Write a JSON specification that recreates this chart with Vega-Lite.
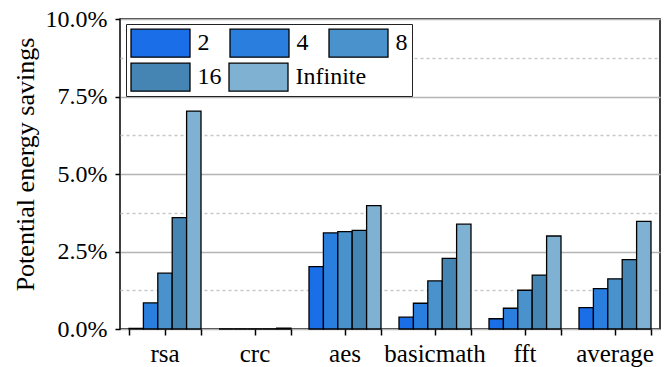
{
  "$schema": "https://vega.github.io/schema/vega-lite/v6.json",
  "width": 540,
  "height": 310,
  "autosize": {"type": "none"},
  "padding": {"left": 120, "top": 19, "right": 12, "bottom": 38},
  "background": "white",
  "config": {
    "font": "Liberation Serif",
    "view": {"stroke": "black", "strokeWidth": 1.5},
    "axis": {
      "labelFont": "Liberation Serif",
      "labelColor": "black",
      "titleFont": "Liberation Serif",
      "titleFontWeight": "normal",
      "titleColor": "black",
      "domain": false,
      "tickColor": "black",
      "tickWidth": 1.5
    },
    "legend": {
      "labelFont": "Liberation Serif",
      "labelFontSize": 24,
      "labelColor": "black"
    }
  },
  "data": {
    "values": [
      {"benchmark": "rsa", "size": "2", "nodes": "2", "saving": 0.02},
      {"benchmark": "rsa", "size": "4", "nodes": "4", "saving": 0.84},
      {"benchmark": "rsa", "size": "8", "nodes": "8", "saving": 1.80},
      {"benchmark": "rsa", "size": "16", "nodes": "16", "saving": 3.59},
      {"benchmark": "rsa", "size": "Infinite", "nodes": "Infinite", "saving": 7.03},
      {"benchmark": "crc", "size": "2", "nodes": "2", "saving": 0.0},
      {"benchmark": "crc", "size": "4", "nodes": "4", "saving": 0.0},
      {"benchmark": "crc", "size": "8", "nodes": "8", "saving": 0.0},
      {"benchmark": "crc", "size": "16", "nodes": "16", "saving": 0.0},
      {"benchmark": "crc", "size": "Infinite", "nodes": "Infinite", "saving": 0.03},
      {"benchmark": "aes", "size": "2", "nodes": "2", "saving": 2.01},
      {"benchmark": "aes", "size": "4", "nodes": "4", "saving": 3.10},
      {"benchmark": "aes", "size": "8", "nodes": "8", "saving": 3.14},
      {"benchmark": "aes", "size": "16", "nodes": "16", "saving": 3.18},
      {"benchmark": "aes", "size": "Infinite", "nodes": "Infinite", "saving": 3.98},
      {"benchmark": "basicmath", "size": "2", "nodes": "2", "saving": 0.38},
      {"benchmark": "basicmath", "size": "4", "nodes": "4", "saving": 0.83},
      {"benchmark": "basicmath", "size": "8", "nodes": "8", "saving": 1.55},
      {"benchmark": "basicmath", "size": "16", "nodes": "16", "saving": 2.28},
      {"benchmark": "basicmath", "size": "Infinite", "nodes": "Infinite", "saving": 3.38},
      {"benchmark": "fft", "size": "2", "nodes": "2", "saving": 0.33},
      {"benchmark": "fft", "size": "4", "nodes": "4", "saving": 0.67},
      {"benchmark": "fft", "size": "8", "nodes": "8", "saving": 1.25},
      {"benchmark": "fft", "size": "16", "nodes": "16", "saving": 1.74},
      {"benchmark": "fft", "size": "Infinite", "nodes": "Infinite", "saving": 3.0},
      {"benchmark": "average", "size": "2", "nodes": "2", "saving": 0.69},
      {"benchmark": "average", "size": "4", "nodes": "4", "saving": 1.30},
      {"benchmark": "average", "size": "8", "nodes": "8", "saving": 1.62},
      {"benchmark": "average", "size": "16", "nodes": "16", "saving": 2.24},
      {"benchmark": "average", "size": "Infinite", "nodes": "Infinite", "saving": 3.47}
    ]
  },
  "layer": [
    {
      "mark": {"type": "bar", "opacity": 0},
      "encoding": {
        "x": {
          "field": "benchmark",
          "type": "nominal",
          "sort": ["rsa", "crc", "aes", "basicmath", "fft", "average"],
          "axis": {
            "orient": "bottom",
            "tickBand": "extent",
            "labels": false,
            "title": null,
            "tickSize": 6,
            "grid": false
          }
        },
        "y": {
          "field": "saving",
          "type": "quantitative",
          "scale": {"domain": [0, 10], "nice": false},
          "axis": {
            "orient": "left",
            "values": [1.25, 3.75, 6.25, 8.75],
            "labels": false,
            "ticks": false,
            "title": null,
            "grid": true,
            "gridColor": "#c8c8c8",
            "gridWidth": 1.5,
            "gridDash": [3, 3]
          }
        }
      }
    },
    {
      "mark": {"type": "bar", "stroke": "black", "strokeWidth": 1.3},
      "encoding": {
        "x": {
          "field": "benchmark",
          "type": "nominal",
          "sort": ["rsa", "crc", "aes", "basicmath", "fft", "average"],
          "scale": {"paddingInner": 0.2, "paddingOuter": 0.1},
          "axis": {
            "orient": "bottom",
            "title": null,
            "labelAngle": 0,
            "labelFont": "Liberation Serif",
            "labelFontSize": 25,
            "tickSize": 6,
            "labelPadding": 6,
            "grid": false
          }
        },
        "xOffset": {
          "field": "size",
          "type": "nominal",
          "sort": ["2", "4", "8", "16", "Infinite"]
        },
        "y": {
          "field": "saving",
          "type": "quantitative",
          "scale": {"domain": [0, 10], "nice": false},
          "axis": {
            "orient": "left",
            "values": [0, 2.5, 5, 7.5, 10],
            "labelExpr": "format(datum.value, '.1f') + '%'",
            "labelFont": "Liberation Serif",
            "labelFontSize": 24,
            "tickSize": 5,
            "labelPadding": 8,
            "grid": true,
            "gridColor": "#b4b4b4",
            "gridWidth": 1.5,
            "title": "Potential energy savings",
            "titleFont": "Liberation Serif",
            "titleFontSize": 26,
            "titleX": -95,
            "titleY": 145,
            "titleAngle": 270,
            "titleAlign": "center",
            "titleBaseline": "middle"
          }
        },
        "fill": {
          "field": "size",
          "type": "nominal",
          "sort": ["2", "4", "8", "16", "Infinite"],
          "scale": {
            "domain": ["2", "4", "8", "16", "Infinite"],
            "range": ["#1a6fe8", "#2a7fde", "#4a92cc", "#4585b4", "#7fb2d2"]
          },
          "legend": {
            "values": ["2", "4", "8"],
            "title": " ",
            "titleOrient": "bottom",
            "titleFontSize": 27,
            "titlePadding": 6,
            "orient": "none",
            "legendX": 6,
            "legendY": 5,
            "zindex": 1,
            "columns": 3,
            "direction": "horizontal",
            "columnPadding": 17,
            "padding": 4,
            "strokeColor": "#222222",
            "fillColor": "white",
            "symbolType": "M-2.107,-1H2.107V1H-2.107Z",
            "symbolSize": 784,
            "symbolOffset": 15.5,
            "symbolStrokeColor": "black",
            "symbolStrokeWidth": 1.3,
            "symbolOpacity": 1,
            "labelOffset": 22,
            "labelBaseline": "middle"
          }
        },
        "strokeDash": {
          "field": "nodes",
          "type": "nominal",
          "scale": {"domain": ["16", "Infinite"], "range": [[1, 0], [1, 0]]},
          "legend": {
            "values": ["16", "Infinite"],
            "title": null,
            "orient": "none",
            "legendX": 10,
            "legendY": 43,
            "zindex": 2,
            "columns": 2,
            "direction": "horizontal",
            "columnPadding": 4,
            "padding": 0,
            "symbolType": "M-2.107,-1H2.107V1H-2.107Z",
            "symbolSize": 784,
            "symbolOffset": 15.5,
            "symbolFillColor": "#6199c2",
            "symbolStrokeColor": "black",
            "symbolStrokeWidth": 1.3,
            "symbolOpacity": 1,
            "labelOffset": 22,
            "labelBaseline": "middle",
            "encode": {
              "symbols": {
                "update": {
                  "fill": {"signal": "datum.value === '16' ? '#4585b4' : '#7fb2d2'"},
                  "fillOpacity": {"value": 1},
                  "stroke": {"value": "black"},
                  "strokeDash": {"value": [1, 0]}
                }
              }
            }
          }
        }
      }
    }
  ],
  "resolve": {"axis": {"x": "independent", "y": "independent"}}
}
